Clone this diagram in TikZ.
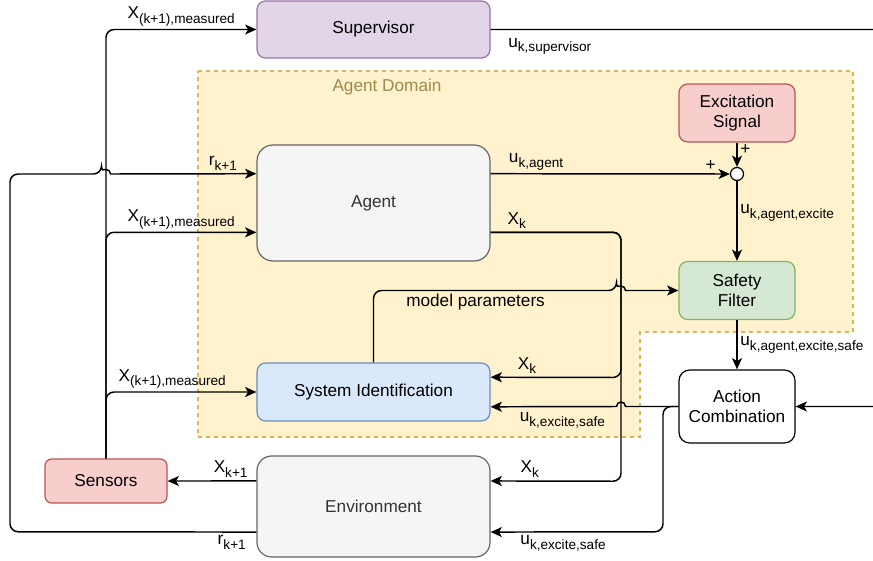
\documentclass[tikz,border=0pt]{standalone}
\usepackage{fontspec}
\setmainfont{Liberation Sans}
\usetikzlibrary{arrows.meta, calc}
\definecolor{supfill}{HTML}{E1D5E7}
\definecolor{supline}{HTML}{9673A6}
\definecolor{gryfill}{HTML}{F5F5F5}
\definecolor{gryline}{HTML}{666666}
\definecolor{idfill}{HTML}{DAE8FC}
\definecolor{idline}{HTML}{6C8EBF}
\definecolor{redfill}{HTML}{F8CECC}
\definecolor{redline}{HTML}{B85450}
\definecolor{grnfill}{HTML}{D5E8D4}
\definecolor{grnline}{HTML}{82B366}
\definecolor{whtfill}{HTML}{FFFFFF}
\definecolor{whtline}{HTML}{000000}
\definecolor{domfill}{HTML}{FFF2CC}
\definecolor{domline}{HTML}{D6B656}
\definecolor{domtext}{HTML}{9C8A4F}
\definecolor{ctext}{HTML}{333333}
\newcommand{\vsub}[2]{#1\raisebox{-3.5pt}{\fontsize{10.2}{11}\selectfont #2}}
\tikzset{
  every picture/.style={x=0.75pt, y=-0.75pt, font=\fontsize{12.9}{15.5}\selectfont},
  box/.style={draw=#1line, fill=#1fill, line width=0.9pt, align=center, inner sep=2pt},
  box/.default=wht,
  sumpt/.style={circle, draw, fill=white, line width=0.9pt, minimum size=9.75pt, inner sep=0pt},
  arrow/.style={-{Stealth[length=8.5pt, width=7.5pt, inset=2.2pt]}, line width=1.1pt, rounded corners=6pt},
  lbl/.style={inner sep=2pt},
  agentzone/.style={draw=domline, fill=domfill, line width=0.9pt, dash pattern=on 3pt off 3pt},
}

\begin{document}
\begin{tikzpicture}
  \useasboundingbox (0,0) rectangle (873,560);
  % agent domain
  \draw[agentzone] (198,71) -- (853,71) -- (853,332) -- (640,332) -- (640,437) -- (198,437) -- cycle;
  \node[text=domtext] (domlbl) at (387,87) {Agent Domain};

  \node[box=sup, minimum width=174.75pt, minimum height=42.75pt, rounded corners=6.4pt] (sup) at (373.5,29.5) {Supervisor};
  \node[box=gry, text=ctext, minimum width=174.75pt, minimum height=87pt, rounded corners=12pt] (agent) at (373.5,203) {Agent};
  \node[box=id, minimum width=174.75pt, minimum height=43.5pt, rounded corners=6.5pt] (sysid) at (373.5,392) {System Identification};
  \node[box=gry, text=ctext, minimum width=174.75pt, minimum height=75.75pt, rounded corners=11pt] (env) at (373.5,506.5) {Environment};
  \node[box=red, minimum width=91.5pt, minimum height=33pt, rounded corners=5pt] (sens) at (106,481) {Sensors};
  \node[box=red, minimum width=87pt, minimum height=43.5pt, rounded corners=6.5pt] (exc) at (737,113) {Excitation\\Signal};
  \node[box=grn, minimum width=87pt, minimum height=43.5pt, rounded corners=6.5pt] (safe) at (737,290.5) {Safety\\Filter};
  \node[box=wht, minimum width=87pt, minimum height=54.75pt, rounded corners=8pt] (act) at (737,406.5) {Action\\Combination};
  \node[sumpt] (sum) at (737,174) {};

  \draw[arrow] (sens.north) |- node[lbl, above, pos=0.75] {\vsub{X}{(k+1),measured}} (sup.west);
  \draw[arrow] (sens.north) |- node[lbl, above, pos=0.75] {\vsub{X}{(k+1),measured}} ($(agent.north west)!.75!(agent.south west)$);
  \draw[arrow] (sens.north) |- node[lbl, above, pos=0.72] {\vsub{X}{(k+1),measured}} (sysid.west);
  \draw[arrow] ($(env.north west)!.75!(env.south west)$) -- node[lbl, below, pos=0.1] {\vsub{r}{k+1}} (10,531.75) -- (10,174) -- (101.5,174) [sharp corners] arc[start angle=180, end angle=0, radius=3.375pt] -- node[lbl, above, pos=0.77] {\vsub{r}{k+1}} ($(agent.north west)!.25!(agent.south west)$);
  \draw[arrow] ($(agent.north east)!.25!(agent.south east)$) -- node[lbl, above, pos=0.19] {\vsub{u}{k,agent}} node[lbl, above, pos=0.92] {+} (sum.west);
  \draw[arrow] (exc.south) -- node[lbl, right, pos=0.3] {+} (sum.north);
  \draw[arrow] (sum.south) -- node[lbl, right, pos=0.4] {\vsub{u}{k,agent,excite}} (safe.north);
  \draw[arrow] (safe.south) -- node[lbl, right, pos=0.5] {\vsub{u}{k,agent,excite,safe}} (act.north);
  \draw[arrow] ($(agent.north east)!.75!(agent.south east)$) -| node[lbl, above, pos=0.1] {\vsub{X}{k}} (621,377.5) -- node[lbl, above, pos=0.72] {\vsub{X}{k}} ($(sysid.north east)!.25!(sysid.south east)$);
  \draw[arrow] ($(agent.north east)!.75!(agent.south east)$) -| (621,481.25) -- node[lbl, above, pos=0.7] {\vsub{X}{k}} ($(env.north east)!.25!(env.south east)$);
  \draw[arrow] (sysid.north) |- node[lbl, below, pos=0.71] {model parameters} (616.5,290.5) [sharp corners] arc[start angle=180, end angle=0, radius=3.375pt] -- (safe.west);
  \draw[arrow, sharp corners] (act.west) -- (625.5,406.5) arc[start angle=0, end angle=180, radius=3.375pt] -- node[lbl, below, pos=0.43, yshift=-2pt] {\vsub{u}{k,excite,safe}} ($(sysid.north east)!.75!(sysid.south east)$);
  \draw[arrow] (act.west) -| (663,531.75) -- node[lbl, below, pos=0.58] {\vsub{u}{k,excite,safe}} ($(env.north east)!.75!(env.south east)$);
  \draw[arrow] ($(env.north west)!.25!(env.south west)$) -- node[lbl, above, pos=0.29] {\vsub{X}{k+1}} (sens.east);
  \draw[arrow] (sup.east) -- node[lbl, below, pos=0.15, yshift=-4pt] {\vsub{u}{k,supervisor}} (885,29.5) -- (885,406.5) -- (act.east);
\end{tikzpicture}
\end{document}
